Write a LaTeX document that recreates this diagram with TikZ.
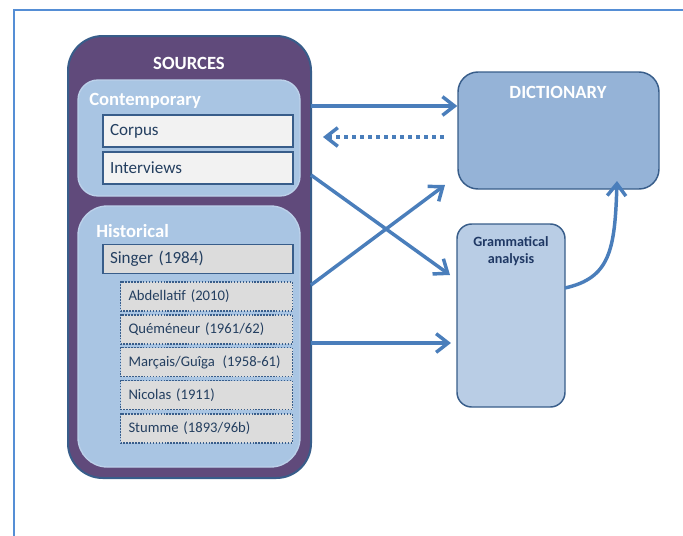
\documentclass[tikz,border=0pt]{standalone}
\usepackage{fontspec}
\setmainfont{Carlito}
\usetikzlibrary{arrows.meta}
\definecolor{purp}{HTML}{604A7B}
\definecolor{bord}{HTML}{385D8A}
\definecolor{lightbox}{HTML}{A9C5E3}
\definecolor{lightbord}{HTML}{BCD1EA}
\definecolor{dictfill}{HTML}{95B3D7}
\definecolor{gramfill}{HTML}{B9CDE5}
\definecolor{arrcol}{HTML}{4A7EBB}
\definecolor{framecol}{HTML}{558ED5}
\definecolor{navy}{HTML}{1F3864}
\definecolor{boxtext}{HTML}{243F60}
\definecolor{palegrey}{HTML}{F2F2F2}
\definecolor{midgrey}{HTML}{DCDCDC}
\tikzset{
  srcbox/.style={draw=bord, line width=1.5pt, fill=purp, rounded corners=26pt, minimum width=182.25pt, minimum height=331.5pt},
  groupbox/.style={draw=lightbord, line width=1pt, fill=lightbox, minimum width=166.5pt},
  itembox/.style={draw=bord, line width=1.3pt, inner xsep=5.25pt, inner ysep=0pt, text width=132pt, align=left, minimum height=24pt, text=boxtext, font=\fontsize{12.8}{15}\selectfont},
  refbox/.style={draw=bord, line width=1pt, dash pattern=on 1.1pt off 1.1pt, fill=midgrey, inner xsep=6pt, inner ysep=0pt, text width=117pt, align=left, minimum height=21.75pt, text=boxtext, font=\fontsize{11}{13}\selectfont},
  whitehead/.style={text=white, font=\bfseries\fontsize{14}{17}\selectfont, inner sep=0pt},
  arr/.style={draw=arrcol, line width=2.6pt, -{Straight Barb[length=9pt,width=14pt]}},
  dotpat/.style={dash pattern=on 3pt off 3pt}
}
\begin{document}
\begin{tikzpicture}[x=0.75pt,y=-0.75pt]
\useasboundingbox (0,0) rectangle (683,536);
% frame
\draw[framecol, line width=1.5pt] (14,536) -- (14,10) -- (683,10);
% sources
\node[srcbox] (src) at (189.5,257) {};
\node[whitehead] (srclabel) at (189,63) {SOURCES};
\node[groupbox, rounded corners=15pt, minimum height=87pt] (cont) at (189,138) {};
\node[whitehead, anchor=west] (contlabel) at (89,101) {Contemporary};
\node[itembox, fill=palegrey] (corpus) at (198,131) {Corpus};
\node[itembox, fill=palegrey] (interv) at (198,168) {Interviews};
\node[groupbox, rounded corners=22pt, minimum height=195.75pt] (hist) at (189,336.5) {};
\node[whitehead, anchor=west] (histlabel) at (96,231) {Historical};
\node[itembox, fill=midgrey, minimum height=21.75pt] (singer) at (198,259) {Singer (1984)};
\node[refbox] (r1) at (206.5,296.5) {Abdellatif (2010)};
\node[refbox] (r2) at (206.5,329.5) {Quéméneur (1961/62)};
\node[refbox] (r3) at (206.5,362) {Marçais/Guîga\hspace{0.2em} (1958-61)};
\node[refbox] (r4) at (206.5,395) {Nicolas (1911)};
\node[refbox] (r5) at (206.5,428.5) {Stumme (1893/96b)};
% dictionary
\node[draw=bord, line width=1.1pt, fill=dictfill, rounded corners=15pt, minimum width=150.75pt, minimum height=87.75pt] (dict) at (558.5,130.5) {};
\node[whitehead] (dictlabel) at (558,92) {DICTIONARY};
% grammatical analysis
\node[draw=bord, line width=1.1pt, fill=gramfill, rounded corners=11pt, minimum width=81pt, minimum height=137.25pt] (gram) at (511,315.5) {};
\node[text=navy, font=\bfseries\fontsize{10.6}{12.75}\selectfont, align=center, inner sep=0pt] (gramlabel) at (511,251) {Grammatical\\analysis};
% connectors
\coordinate (a1) at (311,106);
\draw[arr] (a1) -- (dict.west |- a1);
\coordinate (a2) at (311,137);
\draw[arr, dotpat, shorten <=10pt, shorten >=9pt] (dict.west |- a2) -- (a2);
\coordinate (a3s) at (311,175);
\coordinate (a3e) at (450,275);
\draw[arr] (a3s) -- (a3e);
\coordinate (a4s) at (311,285);
\coordinate (a4e) at (445,185);
\draw[arr] (a4s) -- (a4e);
\coordinate (a5) at (311,343);
\draw[arr, shorten >=4pt] (a5) -- (gram.west |- a5);
\coordinate (a6s) at (565,288);
\coordinate (a6e) at (617,181);
\draw[arr] (a6s) .. controls (610,278) and (615,250) .. (a6e);
\end{tikzpicture}
\end{document}
